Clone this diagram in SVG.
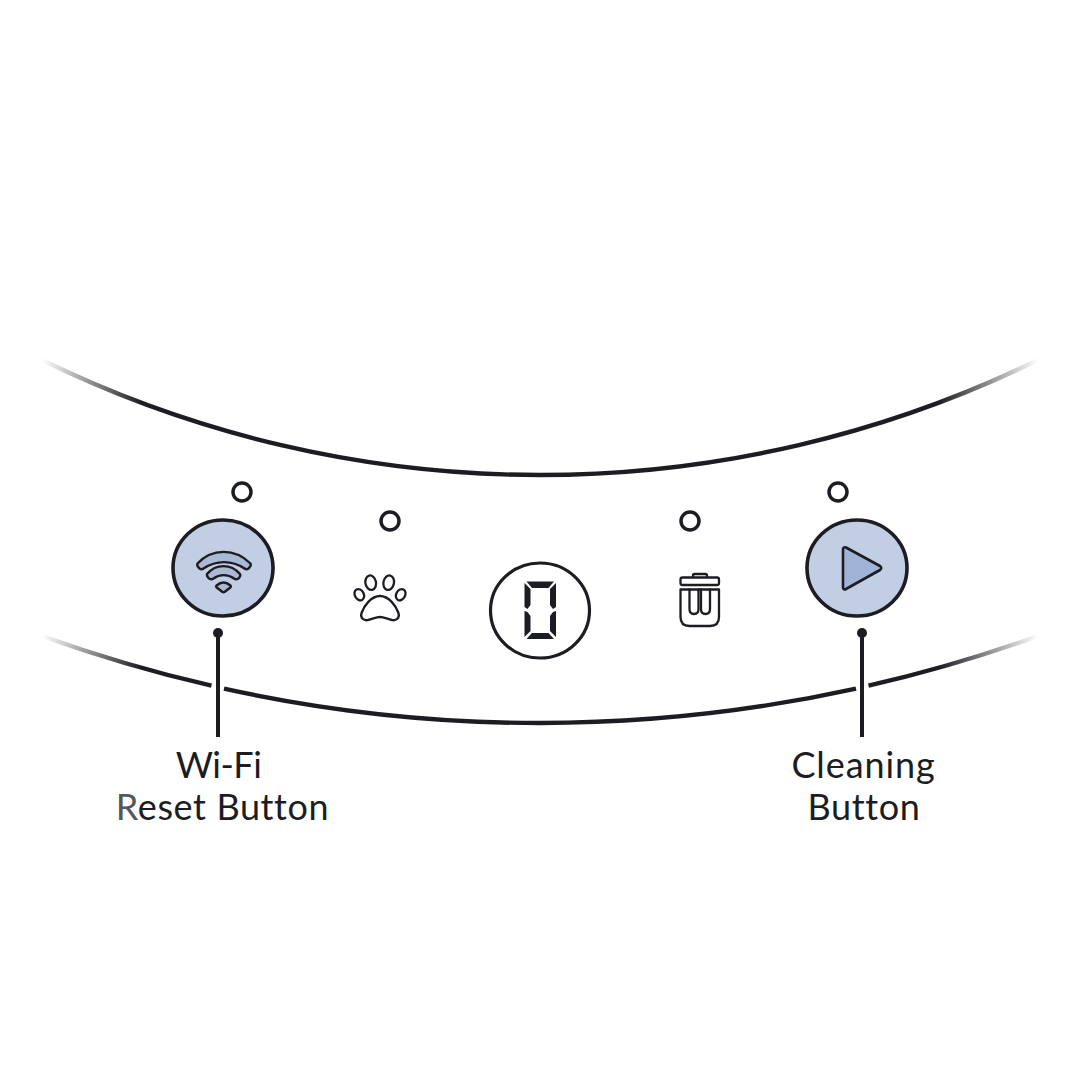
<svg xmlns="http://www.w3.org/2000/svg" width="1080" height="1080" viewBox="0 0 1080 1080">
<style>
.curve{fill:none;stroke:url(#fade);stroke-width:4.400}
.btn{fill:#c2cee3;stroke:#1c1d22;stroke-width:3.600}
.led{fill:#fff;stroke:#1c1d22;stroke-width:3.500}
.ic{fill:none;stroke:#1c1d22;stroke-width:2.300;stroke-linejoin:round;stroke-linecap:round}
.seg{fill:#1c1d22}
.lead{fill:none;stroke:#1c1d22;stroke-width:4}
.lab{font-family:"Lato","Liberation Sans",sans-serif;font-size:36px;fill:#1c1d22;text-anchor:middle;letter-spacing:.6px}
</style>
<defs>
<linearGradient id="fade" gradientUnits="userSpaceOnUse" x1="42" y1="0" x2="1038" y2="0">
<stop offset="0" stop-color="#1c1d22" stop-opacity="0"/><stop offset=".1" stop-color="#1c1d22"/><stop offset=".9" stop-color="#1c1d22"/><stop offset="1" stop-color="#1c1d22" stop-opacity="0"/>
</linearGradient>
</defs>
<g id="panel">
<path class="curve" d="M42 360A1135.800 1135.800 0 0 0 1038 360"/>
<path class="curve" d="M42 636A1468.800 1468.800 0 0 0 211.500 685.700"/>
<path class="curve" d="M224 688.600A1468.800 1468.800 0 0 0 856 688.600"/>
<path class="curve" d="M868.500 685.700A1468.800 1468.800 0 0 0 1038 636"/>
</g>
<g id="wifi-button">
<circle class="led" cx="242" cy="492" r="9"/>
<ellipse class="btn" cx="223" cy="568" rx="50" ry="48"/>
<g fill="#a9b9d6" stroke="#1c1d22" stroke-width="2.400" stroke-linejoin="round">
<path d="M197.500 563.500C212 548 235 548 250.500 563.500Q251.500 566 248.500 568.500Q246.500 570 244.500 568.500C232 560 216 560 203.500 568.500Q201.500 570 199.500 568.500Q196.500 566 197.500 563.500Z"/>
<path d="M207 574C216 563.500 231 563.500 240 574Q241 576 238.500 578.500Q236 580 234 578.500C228 574 219.500 574 213.500 578.500Q211.500 580 209 578.500Q206.500 576 207 574Z"/>
<path d="M216.500 585.500Q223.500 579.500 230.500 585.500Q231.500 586.500 230 587.800L224.500 592Q223.500 592.500 222.500 592L217 587.800Q215.500 586.500 216.500 585.500Z"/>
</g>
</g>
<g id="pet-mode">
<circle class="led" cx="390" cy="521" r="9"/>
<g class="ic">
<ellipse cx="370.700" cy="582.700" rx="5.300" ry="7.300" transform="rotate(-12 370.700 582.700)"/>
<ellipse cx="388.700" cy="582.700" rx="5.300" ry="7.300" transform="rotate(12 388.700 582.700)"/>
<ellipse cx="359.300" cy="594.700" rx="4.500" ry="5.900" transform="rotate(-28 359.300 594.700)"/>
<ellipse cx="400.700" cy="594.700" rx="4.500" ry="5.900" transform="rotate(28 400.700 594.700)"/>
<path d="M380 596C371 596 364 606 361.500 613C360 618 364 621 368 620C373 619 376 617 380 617C384 617 387 619 392 620C396 621 400 618 398.500 613C396 606 389 596 380 596Z"/>
</g>
</g>
<g id="display">
<ellipse cx="540" cy="610.500" rx="49.500" ry="47.500" fill="#fff" stroke="#1c1d22" stroke-width="3.200"/>
<polygon class="seg" points="526.500,581.500 554,581.500 548.500,588 532,588"/>
<polygon class="seg" points="524.500,583 530.500,589 530.500,605 527.500,609 524.500,607"/>
<polygon class="seg" points="556,583 550,589 550,605 553,609 556,607"/>
<polygon class="seg" points="524.500,611 527.500,612 530.500,616 530.500,631 524.500,637"/>
<polygon class="seg" points="556,611 553,612 550,616 550,631 556,637"/>
<polygon class="seg" points="526.500,639 554,639 548.500,633 532,633"/>
</g>
<g id="bin-mode">
<circle class="led" cx="690" cy="521" r="9"/>
<g class="ic">
<rect x="680.500" y="577.500" width="38.500" height="7.500" rx="2"/>
<path d="M693 577V575.500Q693 574 694.500 574H705.500Q707 574 707 575.500V577"/>
<path d="M680.500 589.500H719V617Q719 626 710 626H689.500Q680.500 626 680.500 617Z"/>
<path d="M689.500 589.500V609Q689.500 614 694 614Q698.500 614 698.500 609V589.500"/>
<path d="M701 589.500V609Q701 614 705.500 614Q710 614 710 609V589.500"/>
</g>
</g>
<g id="cleaning-button">
<circle class="led" cx="838" cy="492" r="9"/>
<ellipse class="btn" cx="857" cy="568" rx="50" ry="48"/>
<path d="M843 549.500Q843 546.500 846 547.500L880 566Q882.500 568 880 570L846 589Q843 590.500 843 587Z" fill="#a1b3d6" stroke="#1c1d22" stroke-width="2.600" stroke-linejoin="round"/>
</g>
<g id="connectors">
<circle cx="218" cy="633" r="5" fill="#1c1d22"/>
<path class="lead" d="M218 633V737"/>
<circle cx="862" cy="633" r="5" fill="#1c1d22"/>
<path class="lead" d="M862 633V737"/>
</g>
<g id="labels">
<text class="lab" x="218.500" y="777.500" style="letter-spacing:-.5px">Wi-Fi</text>
<text class="lab" x="222.500" y="819.500"><tspan fill="#55575a">R</tspan>eset Button</text>
<text class="lab" x="863.500" y="777.500" style="letter-spacing:.9px">Cleaning</text>
<text class="lab" x="864" y="819.500">Button</text>
</g>
</svg>
